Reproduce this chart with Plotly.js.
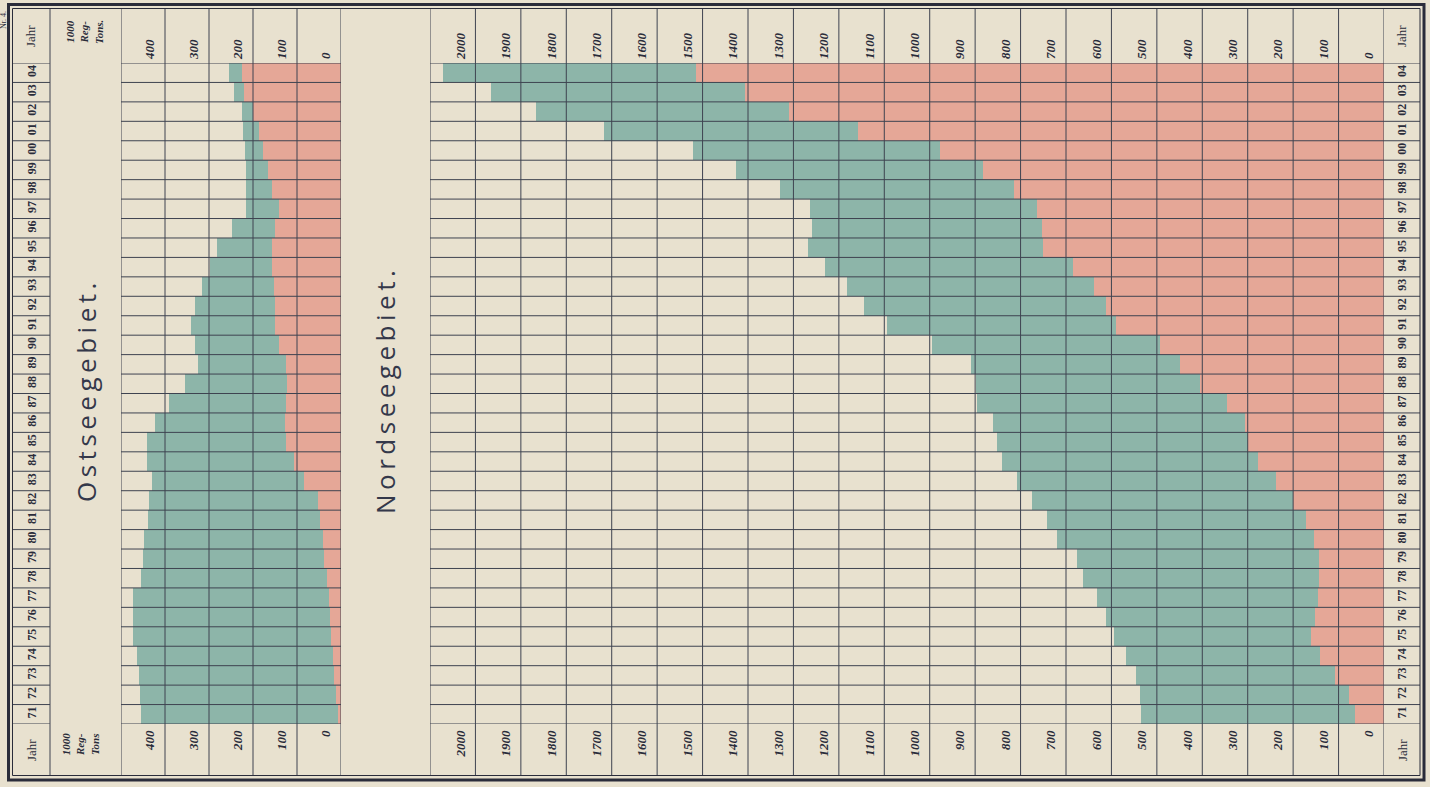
<!DOCTYPE html>
<html>
<head>
<meta charset="utf-8">
<script src="https://cdn.plot.ly/plotly-3.0.1.min.js"></script>
<style>
html,body{margin:0;padding:0;background:#e8e1cf;}
#chart{width:1430px;height:787px;}
</style>
</head>
<body>
<div id="chart"></div>
<script>
// ---------- DATA (1000 Reg.-Tons) ----------
const years = [1871,1872,1873,1874,1875,1876,1877,1878,1879,1880,1881,1882,1883,1884,1885,1886,1887,
               1888,1889,1890,1891,1892,1893,1894,1895,1896,1897,1898,1899,1900,1901,1902,1903,1904];
const yearLabels = ["71","72","73","74","75","76","77","78","79","80","81","82","83","84","85","86","87",
                    "88","89","90","91","92","93","94","95","96","97","98","99","00","01","02","03","04"];

// Ostseegebiet: total tonnage (edge of green) and steamship tonnage (edge of red)
const ostseeTotal = [454,457,458,464,472,472,472,454,451,447,439,436,430,442,442,423,392,
                     355,325,332,340,332,317,297,281,247,217,215,217,219,223,226,244,254];
const ostseeSteam = [6,11,15,19,23,26,28,32,38,42,48,53,83,106,125,127,125,
                     123,125,140,149,151,153,156,156,149,142,156,166,177,186,200,220,226];

// Nordseegebiet
const nordseeTotal = [534,537,546,567,594,613,632,663,675,720,742,775,808,841,852,860,897,
                      898,910,994,1093,1144,1183,1231,1269,1260,1264,1329,1427,1522,1718,1866,1965,2072];
const nordseeSteam = [64,77,108,140,160,151,146,144,144,155,172,201,238,278,300,305,345,
                      405,450,492,589,613,639,684,750,752,763,815,882,977,1158,1309,1407,1514];

// Axis ticks
const ostseeTicks = [0,100,200,300,400];
const ostseeTickText = ["0","100","200","300","400"];
const ostseeGrid = [0,100,200,300,400,500];
const nordseeTicks = [0,100,200,300,400,500,600,700,800,900,1000,1100,1200,1300,1400,1500,1600,1700,1800,1900,2000];
const nordseeTickText = ["0","100","200","300","400","500","600","700","800","900","1000","1100","1200","1300","1400","1500","1600","1700","1800","1900","2000"];
const nordseeGrid = nordseeTicks.concat([2100]);

// ---------- STYLE ----------
const W = 1430, H = 787;
const px = x => x / W;
const py = y => 1 - y / H;
const PAPER = '#e8e1cf';
const RED = '#e5a797';
const GREEN = '#8db5a9';
const GRID = '#3e4350';
const INK = '#2a2c3a';
const serif = 'Liberation Serif, DejaVu Serif, serif';

const yRange = [years[0] - 0.5, years[years.length - 1] + 0.5];

function bar(x, color, xa, name) {
  return {type:'bar', orientation:'h', y: years, x: x, width: 1,
          xaxis: xa, yaxis: 'y', name: name,
          marker: {color: color, line: {width: 0}}, hoverinfo: 'x+y'};
}
function ghost(xa, ya) {
  return {type:'scatter', mode:'markers', x:[null], y:[null], xaxis: xa, yaxis: ya,
          hoverinfo:'skip', showlegend:false};
}
const traces = [
  bar(ostseeTotal, GREEN, 'x', 'Ostsee Segelschiffe'),
  bar(ostseeSteam, RED, 'x', 'Ostsee Dampfer'),
  bar(nordseeTotal, GREEN, 'x2', 'Nordsee Segelschiffe'),
  bar(nordseeSteam, RED, 'x2', 'Nordsee Dampfer'),
  ghost('x3', 'y'), ghost('x4', 'y'), ghost('x2', 'y2')
];

const tickFont = {family: serif, size: 13, color: INK, style: 'italic', weight: 'bold'};
const yearFont = {family: serif, size: 12, color: INK, weight: 'bold'};

function xAxis(domain, range, tickvals, ticktext, side, extra) {
  return Object.assign({
    domain: domain, range: range, side: side, anchor: 'y',
    tickmode: 'array', tickvals: tickvals, ticktext: ticktext, tickangle: -90,
    tickfont: tickFont, ticks: '', showgrid: false, zeroline: false, showline: false,
    ticklabelshift: 15, ticklabelstandoff: 3, fixedrange: true
  }, extra || {});
}

// grid lines drawn above the bars
const shapes = [];
const gy0 = py(775.5), gy1 = py(8.5);
ostseeGrid.forEach(v => shapes.push({type:'line', xref:'x', yref:'paper', x0:v, x1:v, y0:gy0, y1:gy1,
  line:{color:GRID, width:1}, layer:'above'}));
nordseeGrid.forEach(v => shapes.push({type:'line', xref:'x2', yref:'paper', x0:v, x1:v, y0:gy0, y1:gy1,
  line:{color:GRID, width:1}, layer:'above'}));
const rowEdges = years.map(y => y - 0.5).concat([years[years.length - 1] + 0.5]);
const segments = [[12.5, 50], [121, 341], [430, 1420]];
rowEdges.forEach(b => segments.forEach(s => shapes.push({type:'line', xref:'paper', yref:'y',
  x0:px(s[0]), x1:px(s[1]), y0:b, y1:b, line:{color:GRID, width:1}, layer:'above'})));
// column separator between year column and unit column
shapes.push({type:'line', xref:'paper', yref:'paper', x0:px(50), x1:px(50), y0:gy0, y1:gy1,
  line:{color:GRID, width:1}, layer:'above'});
// frame: thick outer, thin inner
shapes.push({type:'rect', xref:'paper', yref:'paper', x0:px(8.5), x1:px(1424), y0:py(780), y1:py(4.5),
  line:{color:INK, width:3}, layer:'above'});
shapes.push({type:'rect', xref:'paper', yref:'paper', x0:px(12.5), x1:px(1420), y0:py(775.5), y1:py(8.5),
  line:{color:INK, width:1}, layer:'above'});

function ann(text, x, y, font, extra) {
  return Object.assign({text: text, x: px(x), y: py(y), xref:'paper', yref:'paper', showarrow:false,
    textangle: -90, font: font, xanchor:'center', yanchor:'middle'}, extra || {});
}
const jahrFont = {family: serif, size: 13, color: INK};
const unitFont = {family: serif, size: 11, color: INK, style: 'italic', weight: 'bold'};
const regionFont = {family: 'Open Sans, DejaVu Sans, sans-serif', size: 26, color: '#34384a'};
const annotations = [
  ann('Jahr', 31, 36, jahrFont), ann('Jahr', 31, 750, jahrFont),
  ann('Jahr', 1402, 36, jahrFont), ann('Jahr', 1402, 750, jahrFont),
  ann('1000<br>Reg-<br>Tons.', 84, 32, unitFont), ann('1000<br>Reg-<br>Tons', 80, 745, unitFont),
  ann('<span style="letter-spacing:4.5px">Ostseegebiet.</span>', 86, 390, regionFont),
  ann('<span style="letter-spacing:4.5px">Nordseegebiet.</span>', 385, 390, regionFont),
  ann('Nr. 4.', 4, 20, {family: serif, size: 8, color: INK})
];

const layout = {
  width: W, height: H,
  margin: {l:0, r:0, t:0, b:0, pad:0},
  paper_bgcolor: PAPER, plot_bgcolor: PAPER,
  showlegend: false, barmode: 'overlay', bargap: 0,
  xaxis: xAxis([px(121), px(341)], [500, 0], ostseeTicks, ostseeTickText, 'bottom'),
  xaxis3: xAxis([px(121), px(341)], [500, 0], ostseeTicks, ostseeTickText, 'top', {overlaying: 'x'}),
  xaxis2: xAxis([px(430), px(1384)], [2100, 0], nordseeTicks, nordseeTickText, 'bottom'),
  xaxis4: xAxis([px(430), px(1384)], [2100, 0], nordseeTicks, nordseeTickText, 'top', {overlaying: 'x2'}),
  yaxis: {domain: [py(724), py(63)], range: yRange, anchor: 'free', position: px(38), side: 'left',
    tickmode: 'array', tickvals: years, ticktext: yearLabels, tickangle: -90, tickfont: yearFont,
    ticks: '', showgrid: false, zeroline: false, showline: false, fixedrange: true},
  yaxis2: {domain: [py(724), py(63)], range: yRange, anchor: 'free', position: px(1393), side: 'right',
    overlaying: 'y', tickmode: 'array', tickvals: years, ticktext: yearLabels, tickangle: -90, tickfont: yearFont,
    ticks: '', showgrid: false, zeroline: false, showline: false, fixedrange: true},
  shapes: shapes,
  annotations: annotations
};

Plotly.newPlot('chart', traces, layout, {displayModeBar: false, staticPlot: true});
</script>
</body>
</html>
